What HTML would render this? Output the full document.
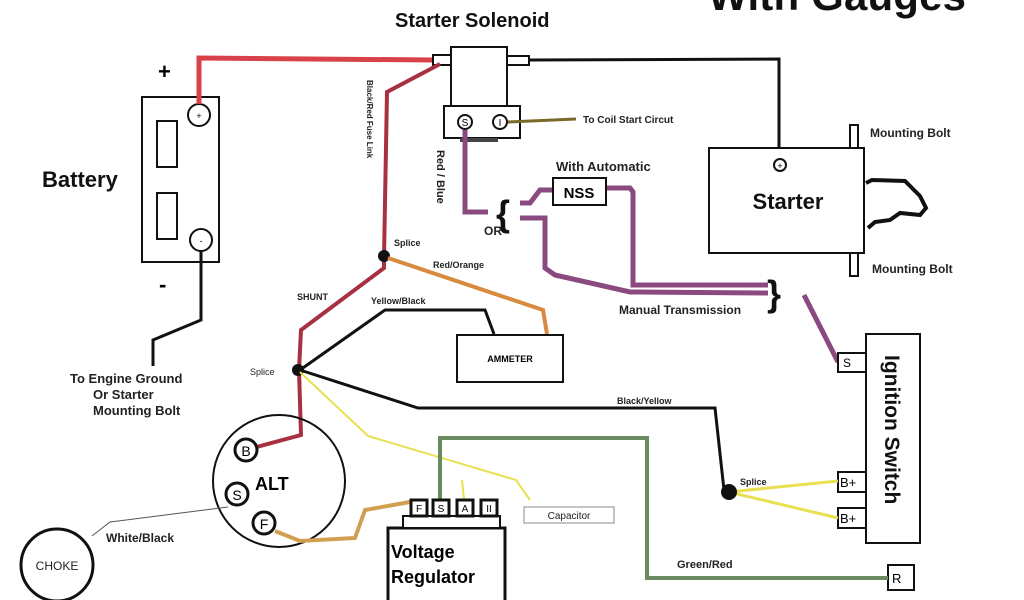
<!DOCTYPE html>
<html><head><meta charset="utf-8"><style>
html,body{margin:0;padding:0;background:#fff;}
svg{display:block;font-family:"Liberation Sans",sans-serif;}
</style></head><body>
<svg width="1024" height="600" viewBox="0 0 1024 600" xmlns="http://www.w3.org/2000/svg">
<rect width="1024" height="600" fill="#fff"/>
<!-- titles -->
<text x="395" y="27" font-size="20" font-weight="bold" fill="#111">Starter Solenoid</text>
<text x="708" y="10" font-size="42" font-weight="bold" fill="#111" textLength="258">With Gauges</text>

<!-- battery -->
<rect x="142" y="97" width="77" height="165" fill="none" stroke="#111" stroke-width="2"/>
<rect x="157" y="121" width="20" height="46" fill="none" stroke="#111" stroke-width="2"/>
<rect x="157" y="193" width="20" height="46" fill="none" stroke="#111" stroke-width="2"/>
<circle cx="199" cy="115" r="11" fill="#fff" stroke="#111" stroke-width="2"/>
<text x="199" y="119" font-size="9" text-anchor="middle">+</text>
<circle cx="201" cy="240" r="11" fill="#fff" stroke="#111" stroke-width="2"/>
<text x="201" y="244" font-size="9" text-anchor="middle">-</text>
<text x="158" y="79" font-size="22" font-weight="bold">+</text>
<text x="159" y="292" font-size="22" font-weight="bold">-</text>
<text x="42" y="187" font-size="22" font-weight="bold" fill="#111">Battery</text>
<polyline points="201,251 201,320 153,340 153,366" fill="none" stroke="#111" stroke-width="3"/>
<text x="70" y="383" font-size="13" font-weight="bold" fill="#222">To Engine Ground</text>
<text x="93" y="399" font-size="13" font-weight="bold" fill="#222">Or Starter</text>
<text x="93" y="415" font-size="13" font-weight="bold" fill="#222">Mounting Bolt</text>

<!-- red battery cable -->
<polyline points="199,104 199,58 433,60" fill="none" stroke="#d8404a" stroke-width="5"/>

<!-- solenoid -->
<rect x="451" y="47" width="56" height="59" fill="#fff" stroke="#111" stroke-width="2"/>
<rect x="433" y="55" width="18" height="10" fill="#fff" stroke="#111" stroke-width="2"/>
<rect x="507" y="56" width="22" height="9" fill="#fff" stroke="#111" stroke-width="2"/>
<rect x="444" y="106" width="76" height="32" fill="#fff" stroke="#111" stroke-width="2"/>
<rect x="460" y="138" width="38" height="4" fill="#444"/>
<circle cx="465" cy="122" r="7" fill="#fff" stroke="#111" stroke-width="2"/>
<text x="465" y="126" font-size="10" text-anchor="middle">S</text>
<circle cx="500" cy="122" r="7" fill="#fff" stroke="#111" stroke-width="2"/>
<text x="500" y="126" font-size="10" text-anchor="middle">I</text>
<polyline points="508,122 576,119" fill="none" stroke="#7a6a2a" stroke-width="3"/>
<text x="583" y="123" font-size="10" font-weight="bold" fill="#222">To Coil Start Circut</text>

<!-- black to starter -->
<polyline points="529,60 779,59 779,160" fill="none" stroke="#111" stroke-width="3"/>
<!-- starter -->
<rect x="709" y="148" width="155" height="105" fill="#fff" stroke="#111" stroke-width="2"/>
<circle cx="780" cy="165" r="6" fill="#fff" stroke="#111" stroke-width="2"/>
<text x="780" y="169" font-size="9" text-anchor="middle">+</text>
<text x="788" y="209" font-size="22" font-weight="bold" text-anchor="middle" fill="#111">Starter</text>
<rect x="850" y="125" width="8" height="23" fill="#fff" stroke="#111" stroke-width="2"/>
<rect x="850" y="253" width="8" height="23" fill="#fff" stroke="#111" stroke-width="2"/>
<text x="870" y="137" font-size="12" font-weight="bold" fill="#222">Mounting Bolt</text>
<text x="872" y="273" font-size="12" font-weight="bold" fill="#222">Mounting Bolt</text>
<path d="M866,183 L872,180 L905,181 L920,196 L926,208 L920,215 L900,213 L890,220 L875,222 L868,228" fill="none" stroke="#111" stroke-width="4"/>

<!-- purple wires -->
<g fill="none" stroke="#8a4a80" stroke-width="5">
<polyline points="465,130 465,212 488,212"/>
<polyline points="520,203 530,203 540,190 553,190"/>
<polyline points="606,188 630,188 633,192 633,285 768,285"/>
<polyline points="520,218 545,218 545,268 555,275 630,292 768,293"/>
<polyline points="804,295 838,362"/>
</g>
<text transform="translate(437,150) rotate(90)" font-size="11" font-weight="bold" fill="#222">Red / Blue</text>
<text x="496" y="226" font-size="36" font-weight="bold" fill="#111">{</text>
<text x="484" y="235" font-size="12" font-weight="bold" fill="#222">OR</text>
<rect x="553" y="178" width="53" height="27" fill="#fff" stroke="#111" stroke-width="2"/>
<text x="579" y="198" font-size="15" font-weight="bold" text-anchor="middle">NSS</text>
<text x="556" y="171" font-size="13" font-weight="bold" fill="#222">With Automatic</text>
<text x="767" y="306" font-size="36" font-weight="bold" fill="#111">}</text>
<text x="619" y="314" font-size="12" font-weight="bold" fill="#222">Manual Transmission</text>

<!-- ignition switch -->
<rect x="866" y="334" width="54" height="209" fill="#fff" stroke="#111" stroke-width="2"/>
<text transform="translate(885,355) rotate(90)" font-size="21" font-weight="bold" fill="#111">Ignition Switch</text>
<rect x="838" y="353" width="28" height="19" fill="#fff" stroke="#111" stroke-width="2"/>
<text x="843" y="367" font-size="12">S</text>
<rect x="838" y="472" width="28" height="20" fill="#fff" stroke="#111" stroke-width="2"/>
<text x="840" y="487" font-size="13">B+</text>
<rect x="838" y="508" width="28" height="20" fill="#fff" stroke="#111" stroke-width="2"/>
<text x="840" y="523" font-size="13">B+</text>
<rect x="888" y="565" width="26" height="25" fill="#fff" stroke="#111" stroke-width="2"/>
<text x="892" y="583" font-size="13">R</text>

<!-- red fuse link -->
<polyline points="440,64 387,92 384,258 384,268 301,330 299,370 301,435 249,449" fill="none" stroke="#a83040" stroke-width="4"/>
<text transform="translate(367,80) rotate(90)" font-size="8" font-weight="bold" fill="#222">Black/Red Fuse Link</text>
<circle cx="384" cy="256" r="6" fill="#111"/>
<text x="394" y="246" font-size="9" font-weight="bold" fill="#222">Splice</text>
<text x="433" y="268" font-size="9" font-weight="bold" fill="#222">Red/Orange</text>
<polyline points="388,258 543,310 547,334" fill="none" stroke="#d88a40" stroke-width="4"/>
<text x="297" y="300" font-size="9" font-weight="bold" fill="#222">SHUNT</text>
<text x="371" y="304" font-size="9" font-weight="bold" fill="#222">Yellow/Black</text>

<!-- ammeter -->
<rect x="457" y="335" width="106" height="47" fill="#fff" stroke="#111" stroke-width="2"/>
<text x="510" y="362" font-size="9" font-weight="bold" text-anchor="middle">AMMETER</text>

<!-- black wires from splice -->
<polyline points="300,370 385,310 485,310 494,334" fill="none" stroke="#111" stroke-width="3"/>
<polyline points="300,370 418,408 715,408 724,490" fill="none" stroke="#111" stroke-width="3"/>
<text x="617" y="404" font-size="9" font-weight="bold" fill="#222">Black/Yellow</text>
<circle cx="298" cy="370" r="6" fill="#111"/>
<text x="250" y="375" font-size="9" fill="#222">Splice</text>

<!-- yellow thin -->
<polyline points="300,372 368,436 516,480 530,500" fill="none" stroke="#e8e050" stroke-width="2"/>
<polyline points="462,480 464,500" fill="none" stroke="#e8e050" stroke-width="2"/>
<rect x="524" y="507" width="90" height="16" fill="#fff" stroke="#888" stroke-width="1"/>
<text x="569" y="519" font-size="10" text-anchor="middle" fill="#222">Capacitor</text>

<!-- B+ splice -->
<polyline points="729,492 838,481" fill="none" stroke="#e8e050" stroke-width="3"/>
<polyline points="729,492 838,518" fill="none" stroke="#e8e050" stroke-width="3"/>
<circle cx="729" cy="492" r="8" fill="#111"/>
<text x="740" y="485" font-size="9" font-weight="bold" fill="#222">Splice</text>

<!-- green/red -->
<polyline points="440,500 440,438 647,438 647,578 888,578" fill="none" stroke="#6a8a60" stroke-width="4"/>
<text x="677" y="568" font-size="11" font-weight="bold" fill="#222">Green/Red</text>

<!-- alternator -->
<circle cx="279" cy="481" r="66" fill="none" stroke="#111" stroke-width="2"/>
<circle cx="246" cy="450" r="11" fill="#fff" stroke="#111" stroke-width="3"/>
<text x="246" y="456" font-size="14" text-anchor="middle">B</text>
<circle cx="237" cy="494" r="11" fill="#fff" stroke="#111" stroke-width="3"/>
<text x="237" y="500" font-size="14" text-anchor="middle">S</text>
<circle cx="264" cy="523" r="11" fill="#fff" stroke="#111" stroke-width="3"/>
<text x="264" y="529" font-size="14" text-anchor="middle">F</text>
<text x="255" y="490" font-size="18" font-weight="bold">ALT</text>
<polyline points="275,531 300,541 355,538 365,510 410,502" fill="none" stroke="#d0a050" stroke-width="4"/>

<!-- choke -->
<circle cx="57" cy="565" r="36" fill="none" stroke="#111" stroke-width="3"/>
<text x="57" y="570" font-size="12" text-anchor="middle" fill="#222">CHOKE</text>
<polyline points="228,507 110,522 92,536" fill="none" stroke="#555" stroke-width="1"/>
<text x="106" y="542" font-size="12" font-weight="bold" fill="#222">White/Black</text>

<!-- voltage regulator -->
<rect x="388" y="528" width="117" height="80" fill="#fff" stroke="#111" stroke-width="3"/>
<rect x="403" y="516" width="97" height="12" fill="#fff" stroke="#111" stroke-width="2"/>
<g fill="#fff" stroke="#111" stroke-width="3">
<rect x="411" y="500" width="16" height="16"/><rect x="433" y="500" width="16" height="16"/>
<rect x="457" y="500" width="16" height="16"/><rect x="481" y="500" width="16" height="16"/>
</g>
<g font-size="10" text-anchor="middle"><text x="419" y="512">F</text><text x="441" y="512">S</text><text x="465" y="512">A</text><text x="489" y="512">II</text></g>
<text x="391" y="558" font-size="18" font-weight="bold">Voltage</text>
<text x="391" y="583" font-size="18" font-weight="bold">Regulator</text>
</svg>
</body></html>
